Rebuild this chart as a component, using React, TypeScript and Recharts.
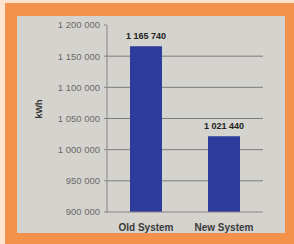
import { BarChart, Bar, XAxis, YAxis, CartesianGrid, LabelList } from 'recharts'

const systems = ['Old System', 'New System']
const energyKwh = [1165740, 1021440]
const yTicks = [900000, 950000, 1000000, 1050000, 1100000, 1150000, 1200000]
const gridValues = [950000, 1000000, 1050000, 1100000, 1150000]

const data = systems.map((name, i) => ({ name, kwh: energyKwh[i] }))

// "1 165 740" style, space as thousands separator
const fmt = (v: number) => String(v).replace(/\B(?=(\d{3})+(?!\d))/g, ' ')

function ValueLabel(props: { x?: number; y?: number; width?: number; value?: number }) {
  const { x = 0, y = 0, width = 0, value = 0 } = props
  return (
    <text x={x + width / 2} y={y - 7} textAnchor="middle" fill="#222" fontSize={9} fontWeight="bold">
      {fmt(value)}
    </text>
  )
}

export default function App() {
  return (
    <div style={{ position: 'fixed', left: 0, top: 0, width: 294, height: 244, background: '#fde3d0' }}>
      <div style={{ position: 'absolute', left: 5, top: 3, width: 289, height: 241, background: '#f4914b' }} />
      <div style={{ position: 'absolute', left: 17, top: 16, width: 268, height: 217, background: '#d5d3ce' }}>
        <BarChart
          width={268}
          height={217}
          data={data}
          margin={{ top: 9, right: 22, bottom: 0, left: 0 }}
          barSize={32}
          style={{ fontFamily: 'Liberation Sans, Arial, sans-serif' }}
        >
          <CartesianGrid vertical={false} horizontalValues={gridValues} stroke="#7c7c7c" />
          <XAxis
            dataKey="name"
            height={21}
            tickLine={false}
            axisLine={{ stroke: '#858585' }}
            tick={{ fill: '#3a3a3a', fontSize: 10, fontWeight: 'bold' }}
            tickMargin={6}
            interval={0}
          />
          <YAxis
            width={90}
            type="number"
            domain={[900000, 1200000]}
            ticks={yTicks}
            interval={0}
            tickFormatter={fmt}
            tick={{ fill: '#6a6a6a', fontSize: 9.5 }}
            tickSize={3}
            tickMargin={4}
            tickLine={{ stroke: '#858585' }}
            axisLine={{ stroke: '#858585' }}
            label={{ value: 'kWh', angle: -90, position: 'insideLeft', offset: 22, fill: '#333', fontSize: 9, fontWeight: 'bold' }}
          />
          <Bar dataKey="kwh" fill="#2d3b9c" isAnimationActive={false}>
            <LabelList dataKey="kwh" content={<ValueLabel />} />
          </Bar>
        </BarChart>
      </div>
    </div>
  )
}
